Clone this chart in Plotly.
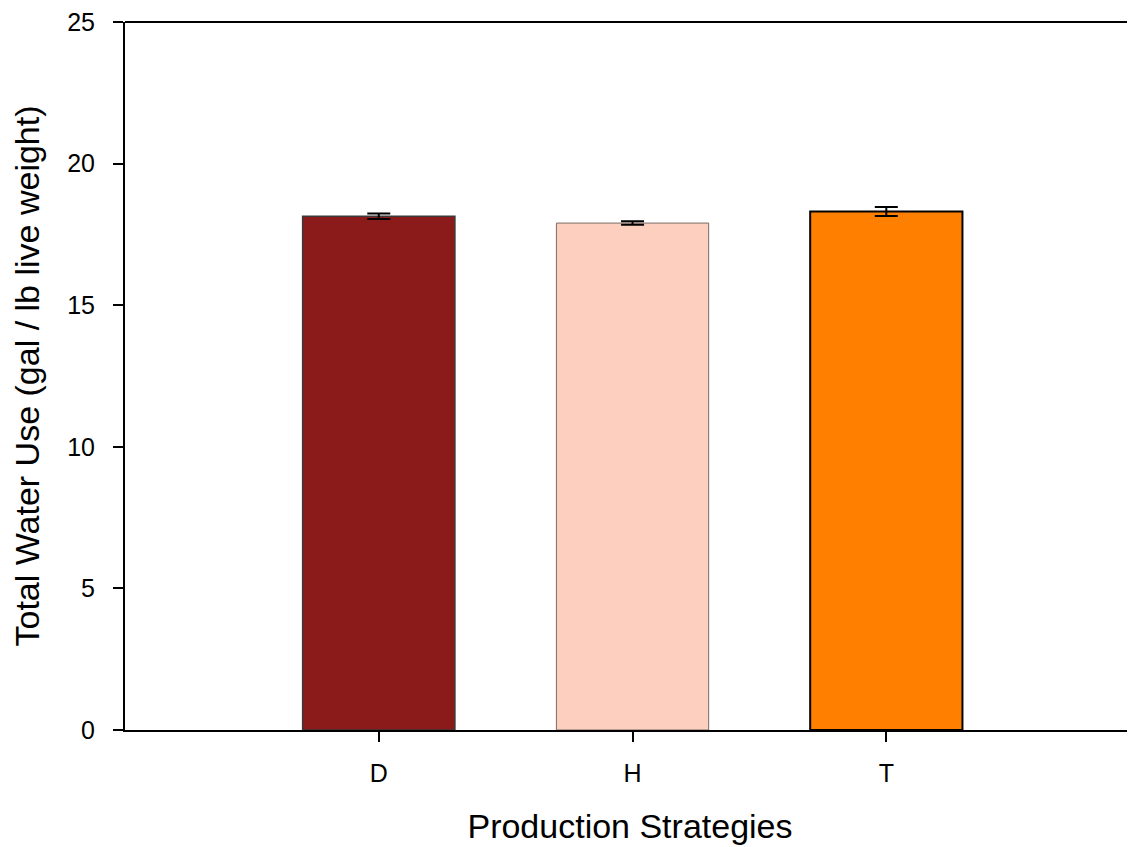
import plotly.graph_objects as go

categories = ["D", "H", "T"]
values = [18.14, 17.90, 18.31]
errors = [0.10, 0.06, 0.16]
colors = ["#8B1A1A", "#FDCFBF", "#FF8000"]
edge_colors = ["#3a3a3a", "#7a6a66", "#000000"]
edge_widths = [1.5, 1.0, 2.0]
y_ticks = [0, 5, 10, 15, 20, 25]

fig = go.Figure()
fig.add_trace(go.Bar(
    x=categories, y=values, width=0.6,
    marker=dict(color=colors, line=dict(color=edge_colors, width=edge_widths)),
    error_y=dict(type="data", array=errors, visible=True, color="black",
                 thickness=2, width=11.5),
))

font = "Liberation Sans, Arial, sans-serif"
fig.update_layout(
    width=1127, height=839,
    margin=dict(l=117, r=0, t=12, b=117),
    plot_bgcolor="white", paper_bgcolor="white",
    showlegend=False,
    font=dict(family=font, color="black"),
    xaxis=dict(
        type="category", range=[-1.0, 2.98],
        showline=True, linecolor="black", linewidth=2,
        ticks="outside", ticklen=10, tickwidth=2, tickcolor="black",
        tickfont=dict(size=25, family=font), ticklabelstandoff=10,
        title=dict(text="Production Strategies", font=dict(size=34, family=font), standoff=28),
        showgrid=False, zeroline=False,
    ),
    yaxis=dict(
        range=[0, 25], tickvals=y_ticks,
        showline=True, linecolor="black", linewidth=2,
        ticks="outside", ticklen=10, tickwidth=2, tickcolor="black",
        tickfont=dict(size=25, family=font), ticklabelstandoff=13,
        ticklabeloverflow="allow",
        title=dict(text="Total Water Use (gal / lb live weight)", font=dict(size=34, family=font), standoff=22),
        showgrid=False, zeroline=False,
    ),
    shapes=[dict(type="line", xref="paper", yref="paper", x0=0, x1=1, y0=1, y1=1,
                 line=dict(color="black", width=2))],
)

fig.write_html("out.html")
